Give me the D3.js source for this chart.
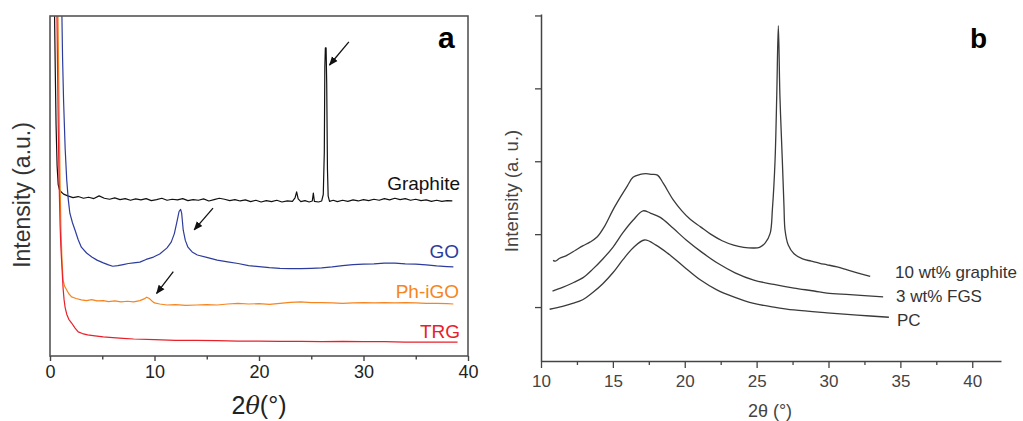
<!DOCTYPE html>
<html><head><meta charset="utf-8">
<script src="https://cdn.jsdelivr.net/npm/d3@7"></script>
<style>
body{margin:0;background:#fff;}
svg{display:block;font-family:"Liberation Sans",Arial,sans-serif;}
</style></head>
<body>
<svg id="chart" width="1023" height="421"></svg>
<script>
// ---------- Panel a data: [2theta, intensity (a.u.)] ----------
const aXTicks = [0, 10, 20, 30, 40];
const aXMinor = [5, 15, 25, 35];
const graphiteA = [[0.42,104],[0.5,85],[0.58,68],[0.68,56],[0.78,50.5],[0.9,49],[1.05,48.3],[1.3,47.6],[1.7,47.1],[2.2,46.6],[2.7,46.9],[3.2,46.4],[3.7,46.7],[4.2,46.3],[4.7,47.1],[5.2,46.4],[5.7,46.1],[6.2,46.5],[6.7,46.0],[7.2,46.3],[7.7,45.8],[8.2,46.2],[8.7,45.9],[9.2,46.3],[9.7,45.7],[10.2,46.0],[10.7,46.4],[11.2,45.8],[11.7,46.1],[12.2,45.9],[12.7,46.3],[13.2,45.7],[13.7,46.0],[14.2,45.8],[14.7,46.2],[15.2,45.6],[15.7,46.0],[16.2,46.4],[16.7,46.1],[17.2,45.7],[17.7,46.0],[18.2,45.6],[18.7,45.9],[19.2,45.4],[19.7,45.8],[20.2,45.3],[20.7,45.7],[21.2,45.4],[21.7,45.8],[22.2,45.3],[22.7,45.6],[23.2,45.5],[23.45,46.5],[23.6,48.3],[23.75,46.2],[24.0,45.4],[24.4,45.7],[24.8,45.3],[25.1,45.6],[25.2,47.9],[25.3,45.5],[25.7,45.3],[26.0,45.6],[26.15,47.5],[26.25,60],[26.3,85],[26.35,90.6],[26.42,90.6],[26.48,80],[26.55,55],[26.62,47],[26.75,45.5],[27.1,45.8],[27.5,45.4],[28,45.8],[28.5,45.5],[29,45.9],[29.5,45.6],[30,46.0],[30.5,45.7],[31,46.1],[31.5,45.8],[32,46.3],[32.5,45.9],[33,46.4],[33.5,46.0],[34,46.3],[34.5,45.8],[35,46.1],[35.5,45.7],[36,45.9],[36.5,45.5],[37,45.8],[37.5,45.5],[38,45.7],[38.5,45.6]];
const goA = [[1.12,104],[1.2,88],[1.3,75],[1.45,61],[1.6,51.8],[1.75,46],[1.9,42],[2.15,39.2],[2.4,37],[2.7,34.2],[3.0,32],[3.5,30.3],[4.0,29.1],[4.5,28.2],[5.1,27.4],[5.6,26.8],[6.0,26.4],[6.5,26.6],[7.0,26.9],[7.5,27.2],[8.0,27.4],[8.6,27.6],[9.2,28.4],[9.9,29.1],[10.5,30.0],[11.2,31.8],[11.6,33.5],[11.9,36],[12.15,39.5],[12.35,42.5],[12.5,43.1],[12.6,42],[12.75,37],[12.95,34],[13.2,32],[13.6,30.6],[14.1,29.7],[15,29.0],[16,28.2],[17,27.7],[18,27.2],[19,26.6],[20,26.3],[21,26.0],[22,25.8],[23,25.7],[24,25.7],[25,25.8],[26,25.9],[27,26.2],[28,26.6],[29,26.9],[30,27.0],[31,27.1],[32,27.3],[33,27.3],[34,27.1],[35,27.0],[36,26.8],[37,26.5],[38,26.3],[38.6,26.2]];
const phigoA = [[0.75,104],[0.82,85],[0.9,66],[0.97,50],[1.05,37],[1.15,28],[1.25,22.4],[1.4,20.5],[1.6,19.4],[1.8,18.3],[2.07,17.4],[2.5,16.9],[3.0,16.5],[3.5,16.3],[4.0,16.6],[4.5,16.2],[5.1,16.3],[5.6,16.0],[6.2,16.2],[6.8,15.9],[7.4,16.1],[8.0,15.9],[8.6,16.3],[9.0,16.8],[9.25,17.3],[9.5,16.9],[9.75,16.2],[10.0,15.6],[10.5,15.3],[11.2,15.0],[12,15.1],[13,14.9],[14,15.0],[15,15.1],[16,15.0],[17,15.3],[18,15.5],[19,15.3],[20,15.4],[21,15.2],[22,15.5],[23,15.8],[24,15.9],[25,15.7],[26,15.7],[27,15.6],[28,15.5],[29,15.6],[30,15.7],[31,15.6],[32,15.7],[33,15.6],[34,15.7],[35,15.6],[36,15.5],[37,15.5],[38,15.4],[38.6,15.3]];
const trgA = [[0.65,104],[0.72,85],[0.8,65],[0.88,50],[0.96,39],[1.04,32],[1.12,27.4],[1.25,20],[1.35,16.5],[1.44,14.4],[1.6,12.3],[1.8,10.8],[2.07,9.7],[2.4,8.2],[2.7,7.1],[3.1,6.6],[3.6,6.2],[4.3,5.9],[5.1,5.6],[6,5.4],[7,5.2],[8,5.0],[10,4.8],[12,4.6],[14,4.6],[16,4.5],[18,4.4],[20,4.4],[22,4.3],[24,4.3],[26,4.2],[28,4.3],[30,4.2],[32,4.2],[34,4.1],[36,4.1],[38,4.1],[39,4.1]];
const seriesNamesA = ["Graphite", "GO", "Ph-iGO", "TRG"];
// arrows: [x1,y1,x2,y2] in data units (tail -> head)
const arrowsA = [[28.6,92.4,26.75,85.6],[15.6,43.5,13.8,37.1],[11.8,24.8,10.2,18.4]];

// ---------- Panel b data ----------
const bXTicks = [10, 15, 20, 25, 30, 35, 40];
const bXMinor = [12.5, 17.5, 22.5, 27.5, 32.5, 37.5];
const bYTicks = [1, 2, 3, 4, 5];
const graphite10B = [[10.84,1.64],[11.0,1.63],[11.3,1.67],[11.8,1.71],[12.4,1.78],[12.9,1.84],[13.4,1.89],[13.9,1.96],[14.4,2.10],[15.0,2.33],[15.5,2.50],[16.0,2.66],[16.4,2.78],[16.9,2.82],[17.3,2.83],[17.7,2.82],[18.1,2.81],[18.5,2.70],[19.2,2.47],[19.8,2.32],[20.4,2.20],[21.1,2.10],[21.8,2.00],[22.6,1.91],[23.4,1.85],[24.1,1.82],[24.8,1.81],[25.2,1.82],[25.6,1.88],[25.94,2.01],[26.1,2.35],[26.28,3.0],[26.4,3.9],[26.51,4.86],[26.62,3.9],[26.79,3.0],[26.9,2.4],[26.98,2.05],[27.2,1.85],[27.6,1.73],[28.2,1.66],[28.8,1.63],[29.4,1.60],[29.9,1.58],[30.6,1.55],[31.3,1.51],[32.0,1.47],[32.9,1.42]];
const fgs3B = [[10.8,1.22],[11.5,1.27],[12.2,1.33],[12.9,1.40],[13.6,1.52],[14.3,1.66],[15.0,1.82],[15.7,2.02],[16.4,2.19],[17.1,2.32],[17.6,2.29],[18.3,2.23],[19.2,2.08],[20.1,1.92],[21.2,1.75],[22.3,1.60],[23.5,1.47],[24.8,1.37],[26.2,1.31],[27.6,1.26],[29.0,1.22],[29.9,1.19],[31.5,1.17],[33.8,1.14]];
const pcB = [[10.6,0.97],[11.5,1.01],[12.2,1.05],[12.9,1.10],[13.6,1.20],[14.3,1.32],[15.0,1.47],[15.7,1.65],[16.4,1.81],[17.2,1.92],[18.0,1.85],[18.8,1.74],[19.9,1.56],[21.1,1.37],[22.2,1.24],[23.4,1.14],[24.8,1.05],[26.2,1.00],[27.6,0.96],[29.9,0.92],[32,0.89],[34.2,0.86]];
const seriesNamesB = ["10 wt% graphite", "3 wt% FGS", "PC"];

const svg = d3.select("#chart");

// ===== Panel a =====
const ax = d3.scaleLinear().domain([0, 40]).range([50, 468]);
const ay = d3.scaleLinear().domain([0, 100]).range([356, 16]);
const colorsA = ["#111111", "#2d3c9c", "#f6851f", "#e8202a"];

svg.append("defs").append("clipPath").attr("id", "clipA")
  .append("rect").attr("x", ax(0)).attr("y", ay(100)).attr("width", ax(40) - ax(0)).attr("height", ay(0) - ay(100));
svg.select("defs").append("marker").attr("id", "arrowHead")
  .attr("viewBox", "0 0 10 10").attr("refX", 9).attr("refY", 5)
  .attr("markerWidth", 7).attr("markerHeight", 7).attr("orient", "auto")
  .append("path").attr("d", "M0,1 L10,5 L0,9 z").attr("fill", "#111");

const lineA = d3.line().x(d => ax(d[0])).y(d => ay(d[1]));
const gA = svg.append("g").attr("clip-path", "url(#clipA)");
[graphiteA, goA, phigoA, trgA].forEach((s, i) => {
  gA.append("path").datum(s).attr("d", lineA).attr("fill", "none")
    .attr("stroke", colorsA[i]).attr("stroke-width", 1.2).attr("stroke-linejoin", "round");
});

// frame
svg.append("rect").attr("x", ax(0)).attr("y", ay(100)).attr("width", ax(40) - ax(0)).attr("height", ay(0) - ay(100))
  .attr("fill", "none").attr("stroke", "#555").attr("stroke-width", 1.6);

const axA = svg.append("g").attr("transform", `translate(0,${ay(0)})`)
  .call(d3.axisBottom(ax).tickValues(aXTicks).tickSize(5).tickSizeOuter(0).tickPadding(4));
axA.select(".domain").remove();
axA.selectAll("line").attr("stroke", "#444").attr("stroke-width", 1.4);
axA.selectAll("text").attr("font-size", 18).attr("fill", "#222").attr("font-family", "Liberation Sans, Arial, sans-serif");
const axAm = svg.append("g").attr("transform", `translate(0,${ay(0)})`)
  .call(d3.axisBottom(ax).tickValues(aXMinor).tickSize(3.5).tickFormat(""));
axAm.select(".domain").remove();
axAm.selectAll("line").attr("stroke", "#444").attr("stroke-width", 1.4);

// labels panel a
const labA = [[460, 190], [459, 258], [459, 298], [460, 338]];
seriesNamesA.forEach((n, i) => {
  svg.append("text").attr("x", labA[i][0]).attr("y", labA[i][1]).attr("text-anchor", "end")
    .attr("font-size", 19).attr("fill", colorsA[i]).text(n);
});
arrowsA.forEach(a => {
  svg.append("line").attr("x1", ax(a[0])).attr("y1", ay(a[1])).attr("x2", ax(a[2])).attr("y2", ay(a[3]))
    .attr("stroke", "#111").attr("stroke-width", 1.3).attr("marker-end", "url(#arrowHead)");
});
svg.append("text").attr("x", 438).attr("y", 48).attr("font-size", 30).attr("font-weight", "bold").attr("fill", "#000").text("a");
svg.append("text").attr("transform", "translate(30,195) rotate(-90)").attr("text-anchor", "middle")
  .attr("font-size", 23).attr("fill", "#333").text("Intensity (a.u.)");
const xtA = svg.append("text").attr("x", 259).attr("y", 414).attr("text-anchor", "middle").attr("font-size", 25).attr("fill", "#222");
xtA.append("tspan").text("2");
xtA.append("tspan").attr("font-style", "italic").attr("font-family", "DejaVu Serif, serif").attr("font-size", 24).text("θ");
xtA.append("tspan").text("(°)");

// ===== Panel b =====
const bx = d3.scaleLinear().domain([10, 42]).range([541, 1001]);
const by = d3.scaleLinear().domain([0.26, 5.02]).range([361, 14]);
const lineB = d3.line().curve(d3.curveCatmullRom.alpha(0.5)).x(d => bx(d[0])).y(d => by(d[1]));
[graphite10B, fgs3B, pcB].forEach(s => {
  svg.append("path").datum(s).attr("d", lineB).attr("fill", "none")
    .attr("stroke", "#3a3a3a").attr("stroke-width", 1.3).attr("stroke-linejoin", "round");
});

const bxA = svg.append("g").attr("transform", `translate(0,${by(0.26)})`)
  .call(d3.axisBottom(bx).tickValues(bXTicks).tickSize(7).tickSizeOuter(0).tickPadding(7));
bxA.select(".domain").attr("stroke", "#444").attr("stroke-width", 1.5);
bxA.selectAll("line").attr("stroke", "#444").attr("stroke-width", 1.3);
bxA.selectAll("text").attr("font-size", 17).attr("fill", "#444").attr("font-family", "Liberation Sans, Arial, sans-serif");
const bxM = svg.append("g").attr("transform", `translate(0,${by(0.26)})`)
  .call(d3.axisBottom(bx).tickValues(bXMinor).tickSize(4).tickFormat(""));
bxM.select(".domain").remove();
bxM.selectAll("line").attr("stroke", "#444").attr("stroke-width", 1.3);
const byA = svg.append("g").attr("transform", `translate(${bx(10)},0)`)
  .call(d3.axisLeft(by).tickValues(bYTicks).tickSize(6).tickSizeOuter(0).tickFormat(""));
byA.select(".domain").attr("stroke", "#444").attr("stroke-width", 1.5);
byA.selectAll("line").attr("stroke", "#444").attr("stroke-width", 1.3);

const labB = [[895, 278], [896, 302], [897, 326]];
seriesNamesB.forEach((n, i) => {
  svg.append("text").attr("x", labB[i][0]).attr("y", labB[i][1]).attr("font-size", 17).attr("fill", "#333").text(n);
});
svg.append("text").attr("x", 970).attr("y", 48).attr("font-size", 28).attr("font-weight", "bold").attr("fill", "#000").text("b");
svg.append("text").attr("transform", "translate(518,191) rotate(-90)").attr("text-anchor", "middle")
  .attr("font-size", 18.5).attr("fill", "#444").text("Intensity (a. u.)");
svg.append("text").attr("x", 770).attr("y", 417).attr("text-anchor", "middle").attr("font-size", 18).attr("fill", "#444").text("2θ (°)");
</script>
</body></html>
